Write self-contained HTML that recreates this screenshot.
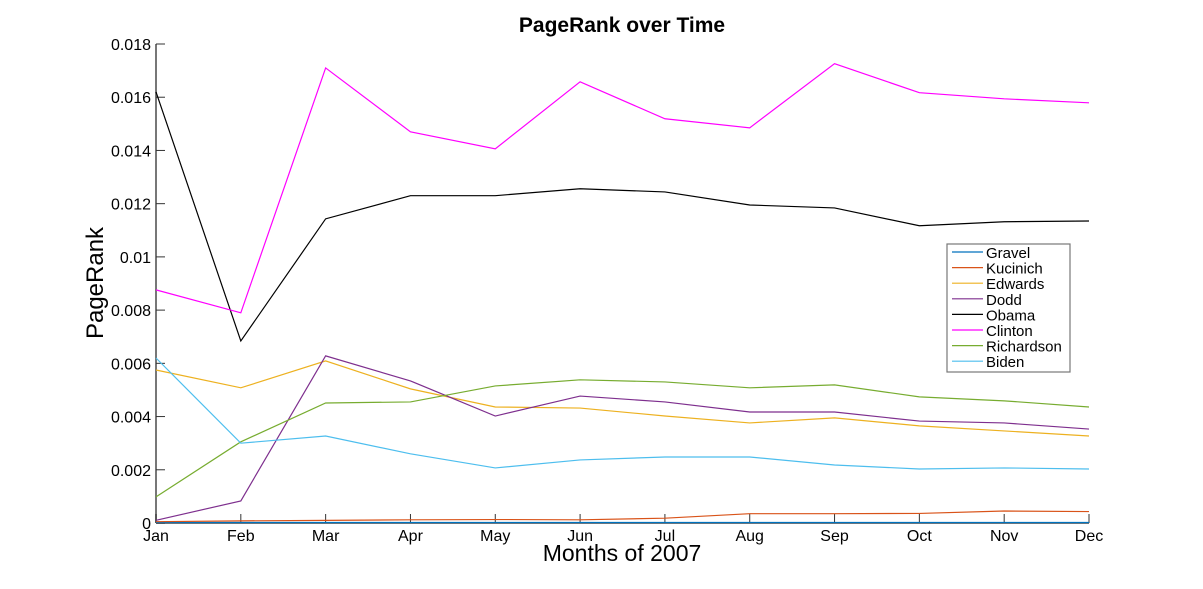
<!DOCTYPE html>
<html><head><meta charset="utf-8"><style>
body{margin:0;background:#fff}
svg{display:block;font-family:"Liberation Sans",Arial,sans-serif}
</style></head><body>
<svg id="chart" width="1203" height="589" viewBox="0 0 1203 589">
<rect width="1203" height="589" fill="#fff"/>
<text x="622" y="32" text-anchor="middle" font-size="21" font-weight="bold">PageRank over Time</text>
<text transform="translate(103,283) rotate(-90)" text-anchor="middle" font-size="24">PageRank</text>
<text x="622" y="561" text-anchor="middle" font-size="23">Months of 2007</text>
<g id="axes"></g>
<g id="series"></g>
<g id="legend"></g>
</svg>
<script>
const months=["Jan","Feb","Mar","Apr","May","Jun","Jul","Aug","Sep","Oct","Nov","Dec"];
const yTicks=[0,0.002,0.004,0.006,0.008,0.01,0.012,0.014,0.016,0.018];
const yTickLabels=["0","0.002","0.004","0.006","0.008","0.01","0.012","0.014","0.016","0.018"];
const names=["Gravel","Kucinich","Edwards","Dodd","Obama","Clinton","Richardson","Biden"];
const colors=["#0072BD","#D95319","#EDB120","#7E2F8E","#000000","#FF00FF","#77AC30","#4DBEEE"];
const gravel=[0.00002,0.00002,0.00002,0.00002,0.00002,0.00002,0.00002,0.00002,0.00002,0.00002,0.00002,0.00002];
const kucinich=[0.00005,0.00008,0.0001,0.00012,0.00013,0.00012,0.00018,0.00035,0.00035,0.00036,0.00045,0.00043];
const edwards=[0.00575,0.00508,0.00609,0.00504,0.00436,0.00432,0.00402,0.00376,0.00395,0.00365,0.00346,0.00327];
const dodd=[0.0001,0.00083,0.00628,0.00534,0.00402,0.00477,0.00455,0.00417,0.00417,0.00383,0.00376,0.00353];
const obama=[0.0162,0.00684,0.01143,0.0123,0.0123,0.01256,0.01244,0.01195,0.01184,0.01117,0.01132,0.01135];
const clinton=[0.00876,0.0079,0.0171,0.0147,0.01406,0.01658,0.01519,0.01485,0.01726,0.01617,0.01594,0.01579];
const richardson=[0.00098,0.00305,0.00451,0.00455,0.00515,0.00538,0.0053,0.00508,0.00519,0.00474,0.00459,0.00436];
const biden=[0.0062,0.003,0.00327,0.0026,0.00207,0.00237,0.00248,0.00248,0.00218,0.00203,0.00207,0.00203];
const seriesData=[gravel,kucinich,edwards,dodd,obama,clinton,richardson,biden];

const X0=156,X1=1089,Y0=523,Y1=44,YMAX=0.018;
const xs=i=>X0+(X1-X0)*i/(months.length-1);
const ys=v=>Y0-(Y0-Y1)*v/YMAX;
const NS="http://www.w3.org/2000/svg";
function mk(tag,attrs,parent){const e=document.createElementNS(NS,tag);for(const k in attrs)e.setAttribute(k,attrs[k]);parent.appendChild(e);return e;}
const axes=document.getElementById('axes');
let a=mk('line',{x1:X0,y1:Y1,x2:X0,y2:Y0,stroke:"#777","stroke-width":2},axes);


a=mk('line',{x1:X0,y1:Y0,x2:X1,y2:Y0,stroke:"#777","stroke-width":2},axes);


yTicks.forEach((v,i)=>{
  const y=ys(v);
  mk('line',{x1:X0,y1:y,x2:X0+9,y2:y,stroke:"#333","stroke-width":1},axes);
  const t=mk('text',{x:X0-5,y:y+6,"text-anchor":"end","font-size":16},axes);
  t.textContent=yTickLabels[i];
  
  
});
months.forEach((m,i)=>{
  const x=xs(i);
  mk('line',{x1:x,y1:Y0,x2:x,y2:Y0-9,stroke:"#333","stroke-width":1},axes);
  const t=mk('text',{x:x,y:Y0+18,"text-anchor":"middle","font-size":16},axes);
  t.textContent=m;
  
  
});
const sg=document.getElementById('series');
seriesData.forEach((d,s)=>{
  const p=mk('polyline',{points:d.map((v,i)=>xs(i)+","+ys(v)).join(" "),fill:"none",stroke:colors[s],"stroke-width":1.2},sg);
  
  
});
const lg=document.getElementById('legend');


mk('rect',{x:947,y:244,width:123,height:128,fill:"#fff",stroke:"#777","stroke-width":1.2},lg);
names.forEach((n,i)=>{
  const y=252+i*15.6;
  const g=mk('g',{},lg);
  
  
  mk('line',{x1:952,y1:y,x2:983,y2:y,stroke:colors[i],"stroke-width":1.2},g);
  const t=mk('text',{x:986,y:y+6,"font-size":15},g);
  t.textContent=n;
});
</script>
</body></html>
